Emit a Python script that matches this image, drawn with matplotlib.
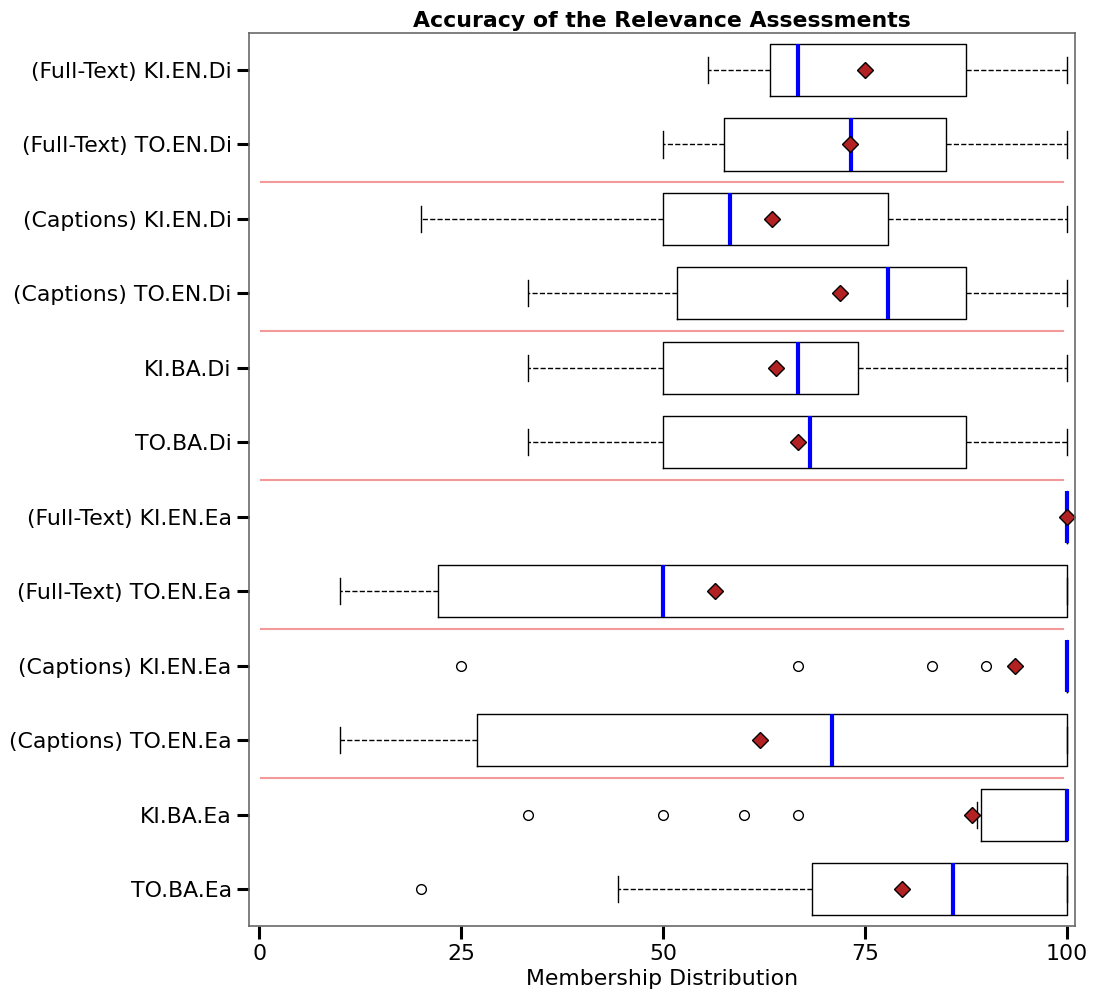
import matplotlib
matplotlib.use('Agg')
import matplotlib.pyplot as plt

# rows from bottom to top
labels = ['TO.BA.Ea', 'KI.BA.Ea', '(Captions) TO.EN.Ea', '(Captions) KI.EN.Ea',
          '(Full-Text) TO.EN.Ea', '(Full-Text) KI.EN.Ea', 'TO.BA.Di', 'KI.BA.Di',
          '(Captions) TO.EN.Di', '(Captions) KI.EN.Di', '(Full-Text) TO.EN.Di',
          '(Full-Text) KI.EN.Di']
whis_lo = [44.4, 88.9, 10.0, 100.0, 10.0, 100.0, 33.3, 33.3, 33.3, 20.0, 50.0, 55.6]
q1 = [68.4, 89.3, 27.0, 100.0, 22.2, 100.0, 50.0, 50.0, 51.7, 50.0, 57.5, 63.3]
med = [85.9, 100.0, 70.9, 100.0, 50.0, 100.0, 68.2, 66.7, 77.8, 58.3, 73.3, 66.7]
q3 = [100.0, 100.0, 100.0, 100.0, 100.0, 100.0, 87.5, 74.1, 87.5, 77.8, 85.0, 87.5]
whis_hi = [100.0, 100.0, 100.0, 100.0, 100.0, 100.0, 100.0, 100.0, 100.0, 100.0, 100.0, 100.0]
means = [79.6, 88.3, 62.0, 93.6, 56.4, 100.0, 66.7, 64.0, 71.9, 63.5, 73.2, 75.0]
outliers = [[20.0], [33.3, 50.0, 60.0, 66.7], [], [25.0, 66.7, 83.3, 90.0],
            [], [], [], [], [], [], [], []]

stats = []
for i in range(len(labels)):
    stats.append(dict(label=labels[i], whislo=whis_lo[i], q1=q1[i], med=med[i],
                      q3=q3[i], whishi=whis_hi[i], mean=means[i], fliers=outliers[i]))

fig, ax = plt.subplots(figsize=(10.97, 9.93), dpi=100)

ax.bxp(stats, positions=range(len(labels)), vert=False, widths=0.7,
       showmeans=True, patch_artist=False,
       boxprops=dict(color='black', linewidth=1),
       whiskerprops=dict(color='black', linewidth=1, linestyle='--'),
       capprops=dict(color='black', linewidth=1),
       medianprops=dict(color='blue', linewidth=3),
       meanprops=dict(marker='D', markerfacecolor='firebrick', markeredgecolor='black',
                      markersize=8),
       flierprops=dict(marker='o', markerfacecolor='white', markeredgecolor='black',
                       markersize=7))

# separators between groups
for y in [1.5, 3.5, 5.5, 7.5, 9.5]:
    ax.axhline(y, xmin=0.014, xmax=0.986, color='lightcoral', linewidth=1.5, alpha=0.8)

ax.set_xlim(-1.25, 101)
ax.set_ylim(-0.5, len(labels) - 0.5)
ax.set_xticks([0, 25, 50, 75, 100])
ax.tick_params(axis='both', labelsize=15.8, length=9, width=2.2, color='black')
for sp in ax.spines.values():
    sp.set_color('dimgray')
    sp.set_linewidth(1.2)

ax.set_xlabel('Membership Distribution', fontsize=15.8, labelpad=4)
ax.set_title('Accuracy of the Relevance Assessments', fontsize=15.8, fontweight='bold', pad=4)

plt.subplots_adjust(left=0.227, right=0.98, top=0.967, bottom=0.067)
plt.savefig('out.png', dpi=100, facecolor='white')
